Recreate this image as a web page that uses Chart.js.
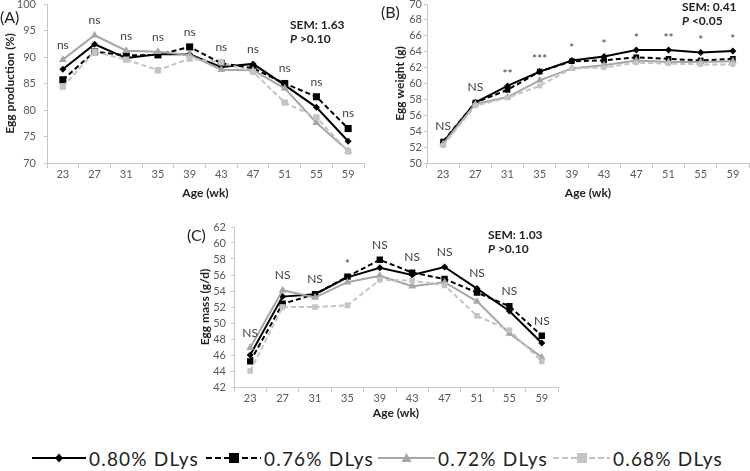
<!DOCTYPE html>
<html>
<head>
<meta charset="utf-8">
<script src="https://cdn.jsdelivr.net/npm/chart.js@4.4.1/dist/chart.umd.min.js"></script>
<style>
body { margin: 0; background: #fff; width: 750px; height: 471px; position: relative; overflow: hidden; font-family: Lato, "Open Sans", sans-serif; }
canvas { position: absolute; }
.tag { position: absolute; font-size: 16px; color: #222; }
.sem { position: absolute; font-size: 12px; font-weight: bold; color: #222; line-height: 14px; }
.leg { position: absolute; top: 447px; height: 22px; display: flex; align-items: center; font-size: 19px; letter-spacing: 1.2px; color: #222; }
.leg svg { margin-right: 3px; }
</style>
</head>
<body>
<canvas id="chartA" width="375" height="205" style="left:0;top:0"></canvas>
<canvas id="chartB" width="375" height="205" style="left:375px;top:0"></canvas>
<canvas id="chartC" width="400" height="205" style="left:180px;top:220px"></canvas>

<div class="tag" style="left:0;top:7px">(A)</div>
<div class="tag" style="left:381px;top:2px">(B)</div>
<div class="tag" style="left:187px;top:225px">(C)</div>

<div class="sem" style="left:290px;top:18px">SEM: 1.63<br><i>P</i> &gt;0.10</div>
<div class="sem" style="left:682px;top:0px">SEM: 0.41<br><i>P</i> &lt;0.05</div>
<div class="sem" style="left:488px;top:228px">SEM: 1.03<br><i>P</i> &gt;0.10</div>

<div class="leg" style="left:32px">
  <svg width="54" height="14"><line x1="0" y1="7" x2="54" y2="7" stroke="#000" stroke-width="2"/><polygon points="27,2.5 31,7 27,11.5 23,7" fill="#000"/></svg>0.80% DLys
</div>
<div class="leg" style="left:206px">
  <svg width="55" height="14"><line x1="0" y1="7" x2="55" y2="7" stroke="#000" stroke-width="2" stroke-dasharray="6,3"/><rect x="23" y="2" width="10" height="10" fill="#000"/></svg>0.76% DLys
</div>
<div class="leg" style="left:378px">
  <svg width="57" height="14"><line x1="0" y1="7" x2="57" y2="7" stroke="#a6a6a6" stroke-width="2"/><polygon points="28.5,2 33.5,11 23.5,11" fill="#a6a6a6"/></svg>0.72% DLys
</div>
<div class="leg" style="left:553px">
  <svg width="57" height="14"><line x1="0" y1="7" x2="57" y2="7" stroke="#c4c4c4" stroke-width="2" stroke-dasharray="6,3"/><rect x="24" y="2" width="10" height="10" fill="#c4c4c4"/></svg>0.68% DLys
</div>

<script>
// data
const ages = ['23', '27', '31', '35', '39', '43', '47', '51', '55', '59'];
const seriesNames = ['0.80% DLys', '0.76% DLys', '0.72% DLys', '0.68% DLys'];

// (A) egg production, %
const prod080 = [87.7, 92.4, 89.8, 90.5, 90.5, 88.1, 88.7, 84.7, 80.5, 74.1];
const prod076 = [85.7, 91.0, 90.3, 90.4, 91.9, 88.8, 87.9, 85.0, 82.5, 76.5];
const prod072 = [89.5, 94.1, 91.2, 91.0, 90.4, 87.6, 87.5, 84.1, 77.6, 72.3];
const prod068 = [84.4, 91.0, 89.5, 87.5, 89.7, 89.0, 87.2, 81.4, 78.6, 72.2];
const sigA = ['ns', 'ns', 'ns', 'ns', 'ns', 'ns', 'ns', 'ns', 'ns', 'ns'];

// (B) egg weight, g
const wt080 = [52.6, 57.6, 59.7, 61.5, 62.9, 63.4, 64.2, 64.2, 63.9, 64.1];
const wt076 = [52.7, 57.6, 59.2, 61.5, 62.8, 62.9, 63.3, 63.1, 62.9, 63.1];
const wt072 = [52.4, 57.4, 58.3, 60.4, 61.9, 62.3, 62.9, 62.7, 62.7, 62.8];
const wt068 = [52.2, 57.2, 58.2, 59.7, 61.9, 62.0, 62.6, 62.5, 62.4, 62.4];
const sigB = ['NS', 'NS', '**', '***', '*', '*', '*', '**', '*', '*'];

// (C) egg mass, g/d
const mass080 = [46.0, 53.3, 53.6, 55.7, 56.9, 56.0, 57.0, 54.3, 51.5, 47.5];
const mass076 = [45.2, 52.4, 53.6, 55.8, 57.9, 56.3, 55.5, 53.8, 52.1, 48.4];
const mass072 = [46.9, 54.1, 53.2, 55.1, 55.9, 54.6, 55.1, 52.7, 48.7, 45.7];
const mass068 = [44.0, 52.0, 52.0, 52.2, 55.4, 55.3, 54.7, 50.9, 49.1, 45.2];
const sigC = ['NS', 'NS', 'NS', '*', 'NS', 'NS', 'NS', 'NS', 'NS', 'NS'];

const tickFont = { family: 'Lato, "Open Sans", sans-serif', size: 11 };
const titleFont = { family: 'Lato, "Open Sans", sans-serif', size: 12, weight: 'bold' };

// writes ns / * above the highest point of each age
const sigPlugin = {
    id: 'sig',
    afterDatasetsDraw(chart) {
        const labels = chart.options.plugins.sig.labels;
        const ctx = chart.ctx;
        const xs = chart.scales.x, ys = chart.scales.y;
        ctx.save();
        ctx.font = '12px Lato, "Open Sans", sans-serif';
        ctx.fillStyle = '#404040';
        ctx.textAlign = 'center';
        ctx.textBaseline = 'middle';
        labels.forEach(function (txt, i) {
            let top = -Infinity;
            chart.data.datasets.forEach(function (ds) { top = Math.max(top, ds.data[i]); });
            const off = txt.indexOf('*') === 0 ? 12 : 15;
            ctx.fillText(txt, xs.getPixelForValue(i), ys.getPixelForValue(top) - off);
        });
        ctx.restore();
    }
};

function makeChart(id, values, yMin, yMax, step, yTitle, sig, box) {
    const styles = [
        { color: '#000000', dash: [], point: 'rectRot', r: 3.5, order: 4 },
        { color: '#000000', dash: [5, 3], point: 'rect', r: box.sq, order: 3 },
        { color: '#a6a6a6', dash: [], point: 'triangle', r: 4.5, order: 2 },
        { color: '#c4c4c4', dash: [5, 3], point: 'rect', r: box.sq - 0.5, order: 1 }
    ];
    const datasets = values.map(function (v, k) {
        const s = styles[k];
        return {
            label: seriesNames[k],
            data: v,
            borderColor: s.color,
            backgroundColor: s.color,
            borderWidth: 2,
            borderDash: s.dash,
            pointStyle: s.point,
            pointRadius: s.r,
            pointBorderWidth: 0,
            order: s.order,
            tension: 0
        };
    });
    return new Chart(document.getElementById(id).getContext('2d'), {
        type: 'line',
        data: { labels: ages, datasets: datasets },
        options: {
            responsive: false,
            animation: false,
            layout: { autoPadding: false, padding: { top: box.top, right: box.right, left: 0, bottom: 0 } },
            plugins: { legend: { display: false }, tooltip: { enabled: false }, sig: { labels: sig } },
            scales: {
                x: {
                    offset: true,
                    grid: { offset: true, drawOnChartArea: false, tickLength: 5, color: '#c8c8c8' },
                    border: { color: '#c8c8c8' },
                    ticks: { font: tickFont, color: '#595959', padding: 0, maxRotation: 0 },
                    title: { display: true, text: 'Age (wk)', font: titleFont, color: '#222', padding: { top: 0, bottom: 5 } },
                    afterFit: function (s) { s.height = box.xh; }
                },
                y: {
                    min: yMin,
                    max: yMax,
                    grid: { drawOnChartArea: false, tickLength: 3, color: '#c8c8c8' },
                    border: { color: '#c8c8c8' },
                    ticks: { stepSize: step, autoSkip: false, font: tickFont, color: '#595959', padding: box.tp },
                    title: { display: true, text: yTitle, font: titleFont, color: '#222', padding: { top: box.tt, bottom: 0 } },
                    afterFit: function (s) { s.width = box.yw; s.paddingTop = 0; s.paddingBottom = 0; }
                }
            }
        },
        plugins: [sigPlugin]
    });
}

makeChart('chartA', [prod080, prod076, prod072, prod068], 70, 100, 5, 'Egg production (%)', sigA,
    { top: 4, right: 11, yw: 47, xh: 42, tp: 8, tt: 3, sq: 5 });
makeChart('chartB', [wt080, wt076, wt072, wt068], 50, 70, 2, 'Egg weight (g)', sigB,
    { top: 4, right: 1, yw: 52, xh: 42, tp: 2, tt: 18, sq: 4 });
makeChart('chartC', [mass080, mass076, mass072, mass068], 42, 62, 2, 'Egg mass (g/d)', sigC,
    { top: 7, right: 22, yw: 54, xh: 38, tp: 5, tt: 18, sq: 4.5 });
</script>
</body>
</html>
